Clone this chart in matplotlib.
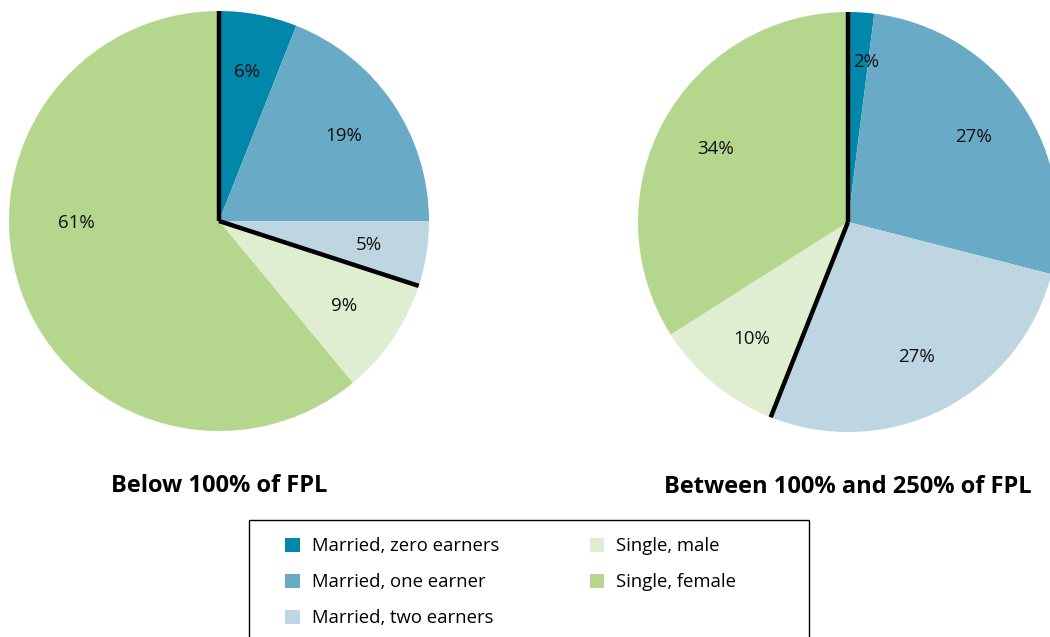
import numpy as np
import matplotlib
matplotlib.use("Agg")
from matplotlib import pyplot as plt
from matplotlib.patches import Patch, Rectangle

plt.rcParams['font.family'] = ['Open Sans', 'DejaVu Sans']

#categories and shares (%)
categories = ["Married, zero earners", "Married, one earner", "Married, two earners",
              "Single, male", "Single, female"]
below_100 = [6, 19, 5, 9, 61]
between_100_250 = [2, 27, 27, 10, 34]
titles = ["Below 100% of FPL", "Between 100% and 250% of FPL"]

colors = ["#0087AA", "#69AAC6", "#BDD6E2", "#DFEDD0", "#B5D78D"]

fig = plt.figure(figsize=(10.5, 6.37), dpi=100)

#axes placed so each pie is 420px across
ax1 = fig.add_axes([9/1050, 1-431/637, 420/1050, 420/637])
ax2 = fig.add_axes([638/1050, 1-432/637, 420/1050, 420/637])

def draw_pie(ax, values, title, moves={}):
    wedges, texts, autotexts = ax.pie(values, colors=colors, startangle=90, counterclock=False,
                                      radius=1, autopct="%d%%", pctdistance=0.72,
                                      wedgeprops=dict(linewidth=0),
                                      textprops=dict(fontsize=13.5, color="#111111"))
    #thick black lines splitting married from single
    married_share = sum(values[:3]) / sum(values)
    for frac in [0.0, married_share]:
        ang = np.deg2rad(90 - 360*frac)
        ax.plot([0, np.cos(ang)], [0, np.sin(ang)], color="black", lw=3.2,
                solid_capstyle="butt", zorder=5)
    for i, pos in moves.items():
        autotexts[i].set_position(pos)
    ax.set_xlim(-1, 1)
    ax.set_ylim(-1, 1)
    ax.set_aspect("equal")
    ax.axis("off")
    ax.text(0, -1.26, title, ha="center", va="center", fontsize=17, fontweight="bold",
            transform=ax.transData, clip_on=False)

draw_pie(ax1, below_100, titles[0], moves={4: (-0.68, -0.01)})
draw_pie(ax2, between_100_250, titles[1], moves={0: (0.085, 0.76)})

#legend box (runs off the bottom edge like the original)
fig.patches.append(Rectangle((249/1050, -0.05), 560/1050, 0.05 + 1-520/637,
                             transform=fig.transFigure, fill=False,
                             edgecolor="black", linewidth=1.0))

handles = [Patch(facecolor=c, edgecolor="none") for c in colors]
leg = fig.legend(handles, categories, ncol=2, loc="upper left",
                 bbox_to_anchor=(285/1050, 1-537/637), frameon=False,
                 fontsize=13.3, handlelength=0.8, handleheight=0.8,
                 handletextpad=0.65, labelspacing=0.98, columnspacing=4.9,
                 borderpad=0, borderaxespad=0)

plt.savefig("out.png", dpi=100)
